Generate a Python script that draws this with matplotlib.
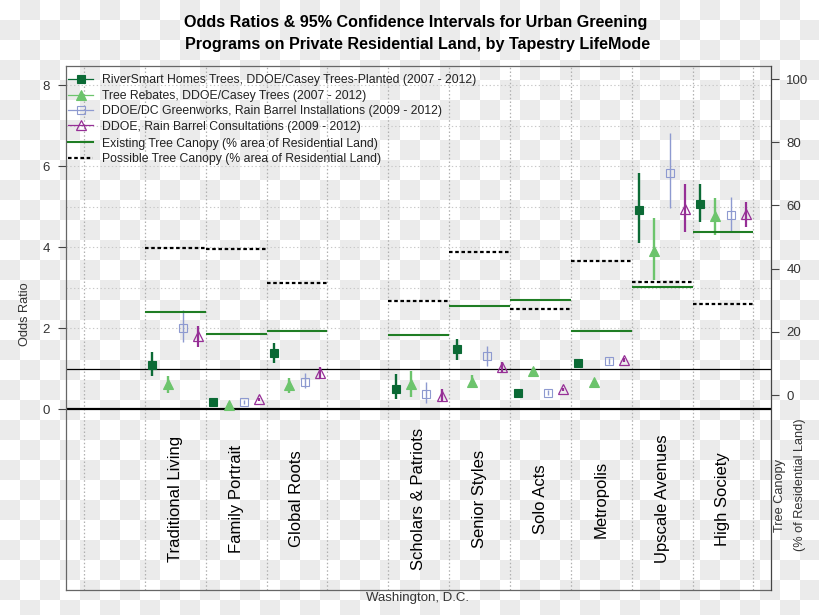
import numpy as np
import matplotlib
matplotlib.use("Agg")
import matplotlib.pyplot as plt
from matplotlib.lines import Line2D

plt.rcParams['font.family'] = ['Liberation Sans', 'DejaVu Sans']

# ---------------- data ----------------
categories = ["", "Traditional Living", "Family Portrait", "Global Roots", "",
              "Scholars & Patriots", "Senior Styles", "Solo Acts", "Metropolis",
              "Upscale Avenues", "High Society"]
nan = np.nan
rs_or  = [nan, 1.10, 0.17, 1.39, nan, 0.50, 1.48, 0.40, 1.15, 4.91, 5.06]
rs_lo  = [nan, 0.82, 0.12, 1.15, nan, 0.26, 1.21, 0.37, 1.09, 4.11, 4.62]
rs_hi  = [nan, 1.41, 0.22, 1.64, nan, 0.86, 1.74, 0.43, 1.21, 5.82, 5.55]

tr_or  = [nan, 0.62, 0.10, 0.59, nan, 0.61, 0.67, 0.94, 0.66, 3.90, 4.77]
tr_lo  = [nan, 0.39, 0.05, 0.40, nan, 0.30, 0.51, 0.90, 0.62, 3.19, 4.31]
tr_hi  = [nan, 0.81, 0.15, 0.76, nan, 0.95, 0.84, 0.98, 0.70, 4.71, 5.20]

gw_or  = [nan, 2.01, 0.18, 0.67, nan, 0.37, 1.31, 0.41, 1.19, 5.83, 4.79]
gw_lo  = [nan, 1.65, 0.13, 0.51, nan, 0.14, 1.07, 0.36, 1.12, 4.96, 4.38]
gw_hi  = [nan, 2.44, 0.23, 0.88, nan, 0.67, 1.56, 0.46, 1.26, 6.82, 5.24]

rb_or  = [nan, 1.80, 0.24, 0.88, nan, 0.33, 1.05, 0.49, 1.21, 4.93, 4.81]
rb_lo  = [nan, 1.54, 0.20, 0.75, nan, 0.18, 0.92, 0.45, 1.16, 4.38, 4.50]
rb_hi  = [nan, 2.06, 0.28, 1.03, nan, 0.49, 1.17, 0.53, 1.26, 5.55, 5.12]

canopy_existing = [nan, 26.3, 19.2, 20.4, nan, 18.9, 28.3, 30.2, 20.4, 34.3, 51.7]
canopy_possible = [nan, 46.4, 46.2, 35.6, nan, 29.9, 45.2, 27.3, 42.3, 35.8, 28.9]

series_labels = ["RiverSmart Homes Trees, DDOE/Casey Trees-Planted (2007 - 2012)",
                 "Tree Rebates, DDOE/Casey Trees (2007 - 2012)",
                 "DDOE/DC Greenworks, Rain Barrel Installations (2009 - 2012)",
                 "DDOE, Rain Barrel Consultations (2009 - 2012)"]
canopy_labels = ["Existing Tree Canopy (% area of Residential Land)",
                 "Possible Tree Canopy (% area of Residential Land)"]
left_ticks = [0, 2, 4, 6, 8]
right_ticks = [0, 20, 40, 60, 80, 100]

# ---------------- figure ----------------
W, H = 820, 615
fig = plt.figure(figsize=(W / 100, H / 100), dpi=100, facecolor='white')

# checkered background as in the reference image
yy, xx = np.mgrid[0:H, 0:W]
chk = ((xx // 20 + yy // 20) % 2).astype(float)
img = np.where(chk[..., None] == 1, 0.925, 1.0) * np.ones(3)
fig.figimage(img, xo=0, yo=0, origin='upper', zorder=-10)

def fx(px):
    return px / W

def fy(py):
    return 1 - py / H

X0, X1 = -0.296, 11.29
Y0, Y1 = -4.465, 8.47
ax = fig.add_axes([fx(66), fy(590), fx(771) - fx(66), fy(66) - fy(590)])
ax.set_facecolor('none')
ax.set_xlim(X0, X1)
ax.set_ylim(Y0, Y1)
ax2 = ax.twinx()
ax2.set_ylim(-61.73, 104.15)
ax2.set_facecolor('none')

n = len(categories)
slots = np.arange(n)

# grid
ax.vlines(np.arange(n + 1), Y0, Y1, colors='#b0b0b0', linestyles=(0, (1.2, 1.8)),
          linewidth=0.9, zorder=1)
ax.hlines(np.arange(2, 9), X0, X1, colors='#c8c8c8', linestyles=(0, (1.2, 2.2)),
          linewidth=0.8, zorder=1)
ax.axhline(1, color='black', lw=0.9, zorder=2)
ax.axhline(0, color='black', lw=1.6, zorder=2)

# canopy lines (right axis)
for i in range(n):
    if not np.isnan(canopy_existing[i]):
        ax2.hlines(canopy_existing[i], slots[i], slots[i] + 1, colors='#1f7d24', lw=1.5, zorder=3)
        ax2.hlines(canopy_possible[i], slots[i], slots[i] + 1, colors='black', lw=1.6,
                   linestyles=(0, (1.6, 1.2)), zorder=3)

styles = [
    dict(color='#0b6a35', marker='s', ms=5.6, mfc='#0b6a35', mew=0.8, lw=1.7),
    dict(color='#6cc46c', marker='^', ms=6.6, mfc='#6cc46c', mew=0.8, lw=1.7),
    dict(color='#8e9ad0', marker='s', ms=5.6, mfc='none', mew=0.8, lw=1.0),
    dict(color='#962f96', marker='^', ms=7.4, mfc='none', mew=0.9, lw=1.6),
]
offsets = [0.125, 0.375, 0.625, 0.875]
series = [(rs_or, rs_lo, rs_hi), (tr_or, tr_lo, tr_hi), (gw_or, gw_lo, gw_hi), (rb_or, rb_lo, rb_hi)]
handles = []
for (orv, lo, hi), st, off in zip(series, styles, offsets):
    x = slots + off
    ax.vlines(x, lo, hi, colors=st['color'], lw=st['lw'], zorder=4)
    ax.plot(x, orv, ls='none', marker=st['marker'], ms=st['ms'], mfc=st['mfc'],
            mec=st['color'], mew=st['mew'], zorder=5)
    handles.append(Line2D([], [], color=st['color'], lw=0.9, marker=st['marker'],
                          ms=st['ms'], mfc=st['mfc'], mec=st['color'], mew=st['mew']))

# category labels
for i, c in enumerate(categories):
    if c:
        ax.text(slots[i] + 0.5, -2.22, c, rotation=90, ha='center', va='center',
                fontsize=12, color='black')

# axes styling
for name, s in ax.spines.items():
    s.set_color('#666666')
    s.set_linewidth(0.9)
ax.spines['right'].set_visible(False)
for name, s in ax2.spines.items():
    s.set_visible(name == 'right')
    s.set_color('#444444')
    s.set_linewidth(0.9)
ax.set_xticks([])
ax.set_yticks(left_ticks)
ax.tick_params(axis='y', direction='out', length=6, width=0.8, color='#444444',
               labelsize=9.5, labelcolor='#333333', pad=5.5)
ax2.set_yticks(right_ticks)
ax2.tick_params(axis='y', direction='out', length=6, width=0.8, color='#444444',
                labelsize=9.5, labelcolor='#333333', pad=5)

# legends
leg_kw = dict(loc='upper left', bbox_transform=fig.transFigure, frameon=False,
              fontsize=8.8, handlelength=2.05, handletextpad=0.72, labelspacing=0.28,
              borderpad=0, borderaxespad=0, numpoints=1)
leg1 = ax.legend(handles, series_labels, bbox_to_anchor=(fx(68), fy(74.5)), **leg_kw)
for t in leg1.get_texts():
    t.set_color('#222222')
ax.add_artist(leg1)
canopy_handles = [Line2D([], [], color='#1f7d24', lw=1.5),
                  Line2D([], [], color='black', lw=1.6, ls=(0, (1.6, 1.2)))]
leg2 = ax.legend(canopy_handles, canopy_labels, bbox_to_anchor=(fx(68), fy(137.5)), **leg_kw)
for t in leg2.get_texts():
    t.set_color('#222222')

# texts
fig.text(fx(416), fy(22), "Odds Ratios & 95% Confidence Intervals for Urban Greening",
         ha='center', va='center', fontsize=11.6, fontweight='bold')
fig.text(fx(418), fy(44), "Programs on Private Residential Land, by Tapestry LifeMode",
         ha='center', va='center', fontsize=11.6, fontweight='bold')
fig.text(fx(25), fy(314), "Odds Ratio", rotation=90, ha='center', va='center',
         fontsize=9.2, color='#333333')
fig.text(fx(418), fy(598), "Washington, D.C.", ha='center', va='center',
         fontsize=9.5, color='#333333')
fig.text(fx(780), fy(495), "Tree Canopy", rotation=90, ha='center', va='center',
         fontsize=9.2, color='#333333')
fig.text(fx(800), fy(485), "(% of Residential Land)", rotation=90, ha='center', va='center',
         fontsize=9.2, color='#333333')

fig.savefig("out.png", dpi=100, facecolor='white')
